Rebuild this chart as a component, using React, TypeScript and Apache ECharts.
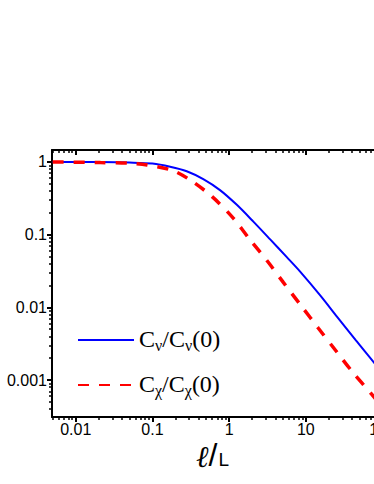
import React, { useEffect, useRef } from 'react';
import * as echarts from 'echarts';

// Blue solid curve: C_nu / C_nu(0)
const xNu = [0.005, 0.02, 0.05, 0.1, 0.17, 0.28, 0.46, 0.76, 1.26, 2.07, 3.43, 5.65, 8.43, 15.4, 25.6, 45, 78, 200];
const yNu = [1.0, 0.995, 0.98, 0.95, 0.86, 0.745, 0.58, 0.41, 0.257, 0.151, 0.086, 0.049, 0.031, 0.0146, 0.0074, 0.0035, 0.00172, 0.00049];

// Red dashed curve: C_chi / C_chi(0)
const xChi = [0.005, 0.021, 0.05, 0.085, 0.179, 0.31, 0.6, 1.13, 1.88, 3.22, 5.06, 8.95, 14.5, 25.6, 41.4, 73, 200];
const yChi = [1.0, 0.98, 0.96, 0.91, 0.77, 0.565, 0.333, 0.169, 0.0845, 0.042, 0.0222, 0.0101, 0.0052, 0.0024, 0.00126, 0.00063, 0.000166];

const seriesNames = ['Cν/Cν(0)', 'Cχ/Cχ(0)'];
const legendTexts = ['{c|C}{s|ν}{c|/C}{s|ν}{c|(0)}', '{c|C}{s|χ}{c|/C}{s|χ}{c|(0)}'];

const xTicks = [0.01, 0.1, 1, 10, 100];
const xTickLabels = ['0.01', '0.1', '1', '10', '100'];
const yTicks = [0.001, 0.01, 0.1, 1];
const yTickLabels = ['0.001', '0.01', '0.1', '1'];

const X_MIN = 0.0049;
const X_MAX = 200;
const Y_MIN = 0.00031;
const Y_MAX = 1.46;

function minorTicks(min: number, max: number): number[] {
  const out: number[] = [];
  for (let e = Math.floor(Math.log10(min)); e <= Math.ceil(Math.log10(max)); e++) {
    for (let m = 2; m <= 9; m++) {
      const v = m * Math.pow(10, e);
      if (v > min && v < max) out.push(v);
    }
  }
  return out;
}

function labelFor(ticks: number[], labels: string[]) {
  return (v: number) => {
    const i = ticks.findIndex((t) => Math.abs(Math.log10(t) - Math.log10(v)) < 1e-6);
    return i >= 0 ? labels[i] : '';
  };
}

const AXIS_COLOR = '#000';

export default function App() {
  const ref = useRef<HTMLDivElement>(null);

  useEffect(() => {
    if (!ref.current) return;
    const chart = echarts.init(ref.current, undefined, { renderer: 'svg' });
    const minorX = minorTicks(X_MIN, X_MAX);
    const minorY = minorTicks(Y_MIN, Y_MAX);

    const baseX = {
      type: 'log' as const,
      logBase: 10,
      min: X_MIN,
      max: X_MAX,
      splitLine: { show: false },
      minorTick: { show: false },
    };
    const baseY = {
      type: 'log' as const,
      logBase: 10,
      min: Y_MIN,
      max: Y_MAX,
      splitLine: { show: false },
      minorTick: { show: false },
    };

    chart.setOption({
      animation: false,
      backgroundColor: '#fff',
      grid: { left: 52, top: 150, height: 267, width: 353.6, containLabel: false },
      xAxis: [
        {
          ...baseX,
          position: 'bottom',
          axisLine: { show: true, lineStyle: { color: AXIS_COLOR, width: 2 } },
          axisTick: { show: true, inside: false, length: 5, customValues: xTicks, lineStyle: { color: AXIS_COLOR, width: 2 } },
          axisLabel: {
            show: true,
            customValues: xTicks,
            formatter: labelFor(xTicks, xTickLabels),
            fontSize: 16,
            fontFamily: 'Liberation Sans',
            color: '#000',
            margin: 4,
          },
        },
        {
          ...baseX,
          position: 'bottom',
          axisLine: { show: false },
          axisTick: { show: true, inside: false, length: 3, customValues: minorX, lineStyle: { color: AXIS_COLOR, width: 1.5 } },
          axisLabel: { show: false },
        },
        {
          ...baseX,
          position: 'top',
          axisLine: { show: true, lineStyle: { color: AXIS_COLOR, width: 2 } },
          axisTick: { show: true, inside: true, length: 5, customValues: xTicks, lineStyle: { color: AXIS_COLOR, width: 2 } },
          axisLabel: { show: false },
        },
        {
          ...baseX,
          position: 'top',
          axisLine: { show: false },
          axisTick: { show: true, inside: true, length: 3, customValues: minorX, lineStyle: { color: AXIS_COLOR, width: 1.5 } },
          axisLabel: { show: false },
        },
      ],
      yAxis: [
        {
          ...baseY,
          position: 'left',
          axisLine: { show: true, lineStyle: { color: AXIS_COLOR, width: 2 } },
          axisTick: { show: true, inside: false, length: 5, customValues: yTicks, lineStyle: { color: AXIS_COLOR, width: 2 } },
          axisLabel: {
            show: true,
            customValues: yTicks,
            formatter: labelFor(yTicks, yTickLabels),
            fontSize: 16,
            fontFamily: 'Liberation Sans',
            color: '#000',
            margin: 5,
          },
        },
        {
          ...baseY,
          position: 'left',
          axisLine: { show: false },
          axisTick: { show: true, inside: false, length: 3, customValues: minorY, lineStyle: { color: AXIS_COLOR, width: 1.5 } },
          axisLabel: { show: false },
        },
      ],
      legend: {
        orient: 'vertical',
        left: 72,
        top: 318,
        itemWidth: 56,
        itemHeight: 14,
        itemGap: 15,
        itemStyle: { color: 'rgba(0,0,0,0)', borderWidth: 0, opacity: 0 },
        data: seriesNames.map((n) => ({ name: n })),
        formatter: (name: string) => legendTexts[seriesNames.indexOf(name)],
        textStyle: {
          color: '#000',
          rich: {
            c: { fontSize: 24, lineHeight: 26, fontFamily: 'Liberation Serif', color: '#000', verticalAlign: 'top' },
            s: { fontSize: 16, lineHeight: 16, fontFamily: 'Liberation Serif', color: '#000', verticalAlign: 'bottom', padding: [14, 0, 0, 0] },
          },
        },
      },
      graphic: [
        {
          type: 'text',
          x: 196,
          y: 439,
          style: {
            text: '{a|ℓ}{b|/}{c|L}',
            verticalAlign: 'top',
            rich: {
              a: { fontSize: 30, lineHeight: 30, fontFamily: 'Liberation Serif', fontStyle: 'italic', fill: '#000', verticalAlign: 'bottom' },
              b: { fontSize: 32, lineHeight: 32, fontFamily: 'Liberation Sans', fill: '#000', verticalAlign: 'bottom' },
              c: { fontSize: 19, lineHeight: 19, fontFamily: 'Liberation Sans', fill: '#000', verticalAlign: 'bottom', padding: [0, 0, 2, 1] },
            },
          },
        },
      ],
      series: [
        {
          name: seriesNames[0],
          type: 'line',
          xAxisIndex: 0,
          yAxisIndex: 0,
          data: xNu.map((x, i) => [x, yNu[i]]),
          symbol: 'none',
          showSymbol: false,
          smooth: 0.3,
          lineStyle: { color: '#0000ff', width: 2, type: 'solid' },
          itemStyle: { color: '#0000ff' },
        },
        {
          name: seriesNames[1],
          type: 'line',
          xAxisIndex: 0,
          yAxisIndex: 0,
          data: xChi.map((x, i) => [x, yChi[i]]),
          symbol: 'none',
          showSymbol: false,
          smooth: 0.3,
          lineStyle: { color: '#ff0000', width: 3.5, type: [11, 10] },
          itemStyle: { color: '#ff0000' },
        },
      ],
    });
    return () => chart.dispose();
  }, []);

  return (
    <div style={{ position: 'fixed', left: 0, top: 0, width: 374, height: 484, overflow: 'hidden', background: '#fff' }}>
      <div ref={ref} style={{ width: 440, height: 484 }} />
    </div>
  );
}
